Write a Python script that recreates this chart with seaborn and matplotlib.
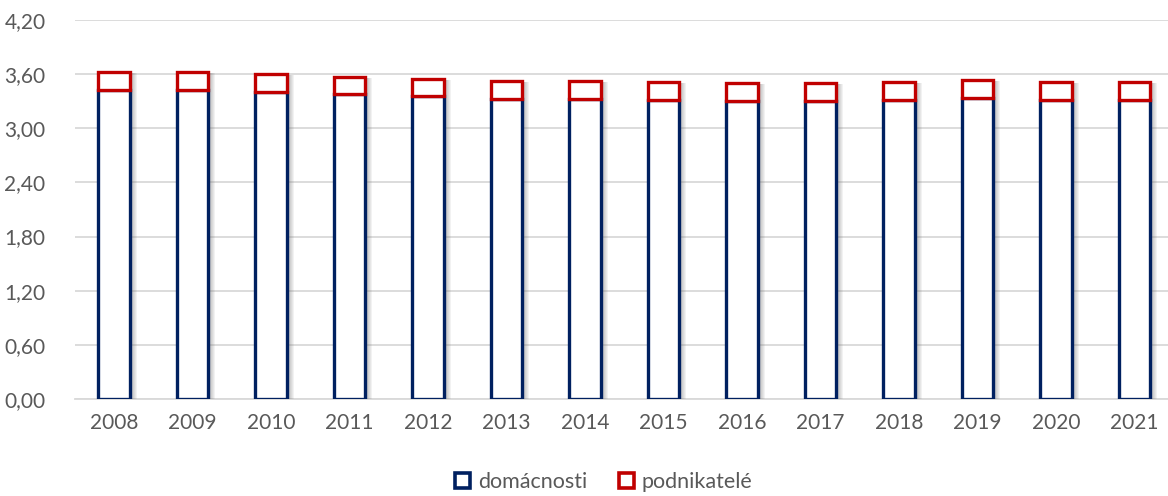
import matplotlib
matplotlib.use("Agg")
import matplotlib.pyplot as plt
from matplotlib.patches import Patch
from matplotlib.transforms import offset_copy
import seaborn as sns
import pandas as pd

years = ["2008", "2009", "2010", "2011", "2012", "2013", "2014",
         "2015", "2016", "2017", "2018", "2019", "2020", "2021"]
domacnosti = [3.42, 3.42, 3.40, 3.38, 3.36, 3.32, 3.32,
              3.31, 3.30, 3.30, 3.31, 3.33, 3.31, 3.31]
podnikatele = [0.20, 0.20, 0.20, 0.19, 0.19, 0.20, 0.20,
               0.20, 0.20, 0.20, 0.20, 0.21, 0.20, 0.20]
yticks = [0.0, 0.6, 1.2, 1.8, 2.4, 3.0, 3.6, 4.2]
ytick_labels = ["0,00", "0,60", "1,20", "1,80", "2,40", "3,00", "3,60", "4,20"]

BLUE = "#002060"
RED = "#C00000"
GRID = "#D9D9D9"
TEXT = "#595959"

sns.set_theme(style="white")
plt.rcParams["font.family"] = ["Lato", "DejaVu Sans"]

df = pd.DataFrame({"rok": years, "domacnosti": domacnosti, "podnikatele": podnikatele})
df["celkem"] = df["domacnosti"] + df["podnikatele"]

fig = plt.figure(figsize=(11.68, 4.96), dpi=100)
ax = fig.add_axes([0.064, 0.1956, 0.941, 0.7641])

bw = 0.40
# soft drop shadow
for k in range(1, 8):
    tr = offset_copy(ax.transData, fig=fig, x=k, y=-1, units="dots")
    ax.bar(range(len(years)), df["celkem"], width=bw, color="#6f6f6f",
           alpha=0.085, linewidth=0, zorder=1, transform=tr)

sns.barplot(data=df, x="rok", y="domacnosti", ax=ax, color="white",
            edgecolor=BLUE, linewidth=2.4, width=bw, zorder=3)
ax.bar(range(len(years)), df["podnikatele"], bottom=df["domacnosti"], width=bw,
       color="white", edgecolor=RED, linewidth=2.4, zorder=4)

ax.set_xlim(-0.5, len(years) - 0.5)
ax.set_ylim(0, 4.2)
ax.set_yticks(yticks)
ax.set_yticklabels(ytick_labels)
ax.yaxis.grid(True, color=GRID, linewidth=1.3, zorder=0)
ax.set_axisbelow(True)
for s in ["top", "right", "left"]:
    ax.spines[s].set_visible(False)
ax.spines["bottom"].set_color(GRID)
ax.spines["bottom"].set_linewidth(1.3)
ax.spines["bottom"].set_zorder(0)
ax.tick_params(axis="both", length=0, colors=TEXT, labelsize=15)
ax.tick_params(axis="y", pad=21)
ax.tick_params(axis="x", pad=10)
ax.set_xlabel("")
ax.set_ylabel("")

handles = [Patch(facecolor="white", edgecolor=BLUE, linewidth=2.6, label="domácnosti"),
           Patch(facecolor="white", edgecolor=RED, linewidth=2.6, label="podnikatelé")]
leg = fig.legend(handles=handles, loc="center", bbox_to_anchor=(0.517, 0.028), ncol=2,
                 frameon=False, fontsize=15.5, handlelength=0.7, handleheight=0.7,
                 handletextpad=0.35, columnspacing=1.5)
for t in leg.get_texts():
    t.set_color(TEXT)

fig.savefig("out.png", dpi=100)
